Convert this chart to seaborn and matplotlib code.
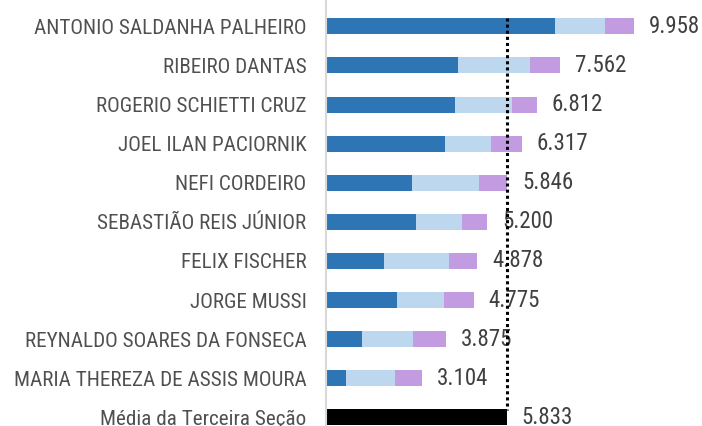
import numpy as np
import pandas as pd
import matplotlib
matplotlib.use('Agg')
import matplotlib.pyplot as plt
import seaborn as sns

# Data
names = [
    'ANTONIO SALDANHA PALHEIRO', 'RIBEIRO DANTAS', 'ROGERIO SCHIETTI CRUZ',
    'JOEL ILAN PACIORNIK', 'NEFI CORDEIRO', 'SEBASTIÃO REIS JÚNIOR',
    'FELIX FISCHER', 'JORGE MUSSI', 'REYNALDO SOARES DA FONSECA',
    'MARIA THEREZA DE ASSIS MOURA',
]
mean_label = 'Média da Terceira Seção'
part_dark = [7.40, 4.26, 4.18, 3.84, 2.79, 2.92, 1.88, 2.29, 1.16, 0.66]
part_light = [1.62, 2.34, 1.82, 1.50, 2.15, 1.46, 2.09, 1.52, 1.66, 1.58]
totals = [9.958, 7.562, 6.812, 6.317, 5.846, 5.200, 4.878, 4.775, 3.875, 3.104]
mean_value = 5.833

order = names + [mean_label]

sns.set_theme(style='white')
plt.rcParams['font.family'] = ['Roboto Condensed', 'DejaVu Sans']
plt.rcParams['font.stretch'] = 'condensed'

df = pd.DataFrame({'name': names, 'dark': part_dark, 'light': part_light, 'total': totals})
df['dark_light'] = df['dark'] + df['light']
mean_df = pd.DataFrame({'name': [mean_label], 'value': [mean_value]})

fig = plt.figure(figsize=(7.02, 4.26), dpi=100)
ax = fig.add_axes([326 / 702, 0, 1 - 326 / 702, 1])

# stacked bars as overlapping cumulative layers
kw = dict(y='name', order=order, width=0.41, linewidth=0, saturation=1, ax=ax)
sns.barplot(data=df, x='total', color='#C39BE0', **kw)
sns.barplot(data=df, x='dark_light', color='#BDD7EE', **kw)
sns.barplot(data=df, x='dark', color='#2E75B6', **kw)
sns.barplot(data=mean_df, x='value', color='black', **kw)

# average line
ax.vlines(mean_value, -0.22, 9.8, colors='black', linestyles=(0, (1, 1)), lw=2.2, zorder=5)

for i, v in enumerate(totals + [mean_value]):
    ax.annotate(f'{v:.3f}', xy=(v, i), xytext=(15, 0), textcoords='offset pixels',
                va='center', ha='left', fontsize=16.5, color='#404040')

ax.set_xlim(0, 376 / 30.96)
ax.set_ylim(10.22, -0.673)
ax.set_xlabel('')
ax.set_ylabel('')
ax.set_xticks([])
ax.tick_params(axis='y', length=0, pad=14, labelsize=15.2, labelcolor='#505050')
for s in ['top', 'right', 'bottom']:
    ax.spines[s].set_visible(False)
ax.spines['left'].set_color('#D9D9D9')
ax.spines['left'].set_linewidth(1.5)

fig.savefig('out.png', dpi=100)
